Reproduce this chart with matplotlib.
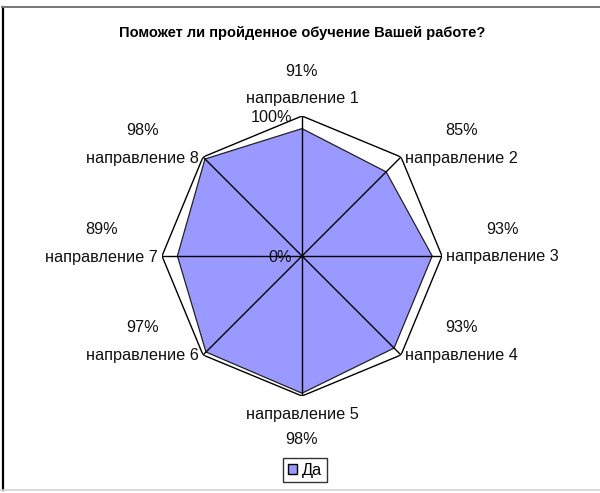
import numpy as np
import matplotlib
matplotlib.use("Agg")
import matplotlib.pyplot as plt
from matplotlib.lines import Line2D
from matplotlib.patches import Patch

plt.rcParams['font.family'] = ['Liberation Sans', 'DejaVu Sans']

# data
title = "Поможет ли пройденное обучение Вашей работе?"
categories = ["направление 1", "направление 2", "направление 3", "направление 4",
              "направление 5", "направление 6", "направление 7", "направление 8"]
values = [91, 85, 93, 93, 98, 97, 89, 98]
series_name = "Да"
r_ticks = [0, 100]

W, H = 600, 493
fig = plt.figure(figsize=(W / 100, H / 100), dpi=100)

# chart frame (pixels -> figure fraction)
def fx(px):
    return px / W

def fy(py):
    return 1 - py / H

fig.add_artist(Line2D([fx(2.5), fx(2.5)], [fy(7), fy(490)], color='black', lw=1.6,
                      transform=fig.transFigure))
fig.add_artist(Line2D([fx(2), fx(600)], [fy(7), fy(7)], color='#777777', lw=1.4,
                      transform=fig.transFigure))
fig.add_artist(Line2D([fx(0), fx(600)], [fy(490), fy(490)], color='#d4d4d4', lw=1.2,
                      transform=fig.transFigure))

# radar axes: centre (302, 256), radius 140 px
cx, cy, rad = 302, 256, 140
ax = fig.add_axes([fx(cx - rad), fy(cy + rad), 2 * rad / W, 2 * rad / H],
                  projection='polar')
ax.set_theta_zero_location('N')
ax.set_theta_direction(-1)
ax.set_ylim(0, 100)
ax.grid(False)
ax.spines['polar'].set_visible(False)
ax.set_xticks([])
ax.set_yticks([])
ax.patch.set_visible(False)

n = len(categories)
angles = np.arange(n) * 2 * np.pi / n
closed = np.append(angles, angles[0])
vals_closed = np.append(values, values[0])

# data area
ax.fill(closed, vals_closed, facecolor='#9999FF', edgecolor='#222222', lw=0.9, zorder=2)
# outer gridline and spokes
ax.plot(closed, np.full(n + 1, r_ticks[-1]), color='black', lw=1.0, zorder=3)
for a in angles:
    ax.plot([a, a], [0, r_ticks[-1]], color='black', lw=1.0, zorder=3)

fs = 11.7
# radial tick labels
for t in r_ticks:
    ax.annotate(f"{t}%", xy=(0, t), xytext=(-10, -1), textcoords='offset pixels',
                ha='right', va='center', fontsize=fs, color='#111111', zorder=4)

# category and value labels
for a, cat, v in zip(angles, categories, values):
    s, c = np.sin(a), np.cos(a)
    if abs(s) < 0.1:
        ha = 'center'
        off = (0, 17) if c > 0 else (0, -19)
        voff = (0, 27) if c > 0 else (0, -25)
    else:
        ha = 'left' if s > 0 else 'right'
        off = (4 if s > 0 else -4, -1)
        voff = (0, 28)
    t = ax.annotate(cat, xy=(a, r_ticks[-1]), xytext=off, textcoords='offset pixels',
                    ha=ha, va='center', fontsize=fs, color='#111111',
                    annotation_clip=False)
    ax.annotate(f"{v}%", xy=(0.5, 0.5), xycoords=t, xytext=voff,
                textcoords='offset pixels', ha='center', va='center',
                fontsize=fs, color='#111111')

fig.text(fx(302), fy(33), title, ha='center', va='center', fontsize=10.5,
         fontweight='bold', color='black')

leg = fig.legend(handles=[Patch(facecolor='#9999FF', edgecolor='black', lw=1.0,
                                label=series_name)],
                 loc='center', bbox_to_anchor=(fx(305), fy(470)),
                 frameon=True, fancybox=False, fontsize=fs,
                 handlelength=0.6, handleheight=0.6, handletextpad=0.3,
                 borderpad=0.3, borderaxespad=0)
leg.get_frame().set_edgecolor('black')
leg.get_frame().set_linewidth(1.0)

fig.savefig("out.png", dpi=100)
